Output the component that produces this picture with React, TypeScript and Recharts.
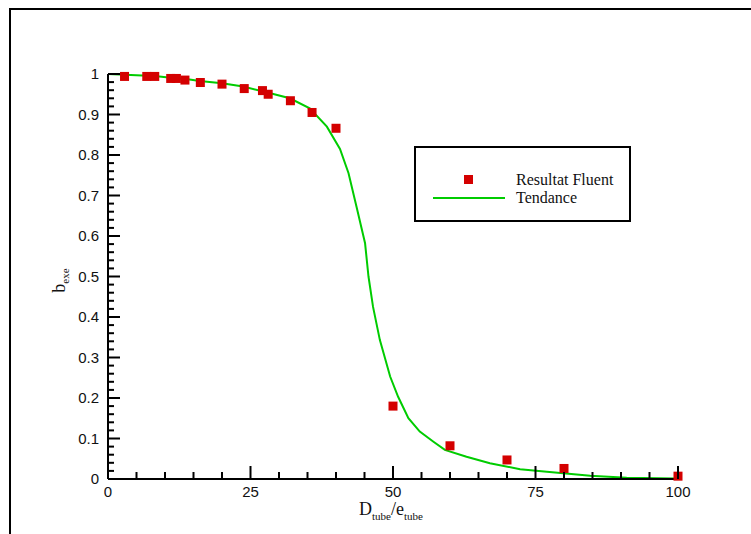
import React from 'react';
import { ComposedChart, Line, Scatter, XAxis, YAxis, Legend } from 'recharts';

// Resultat Fluent (points)
const fluentX = [2.9, 6.8, 8.2, 11, 12, 13.5, 16.2, 20, 23.9, 27.1, 28.1, 32, 35.8, 40, 50, 60, 70, 80, 100];
const fluentY = [0.994, 0.994, 0.994, 0.989, 0.989, 0.985, 0.979, 0.975, 0.964, 0.959, 0.95, 0.934, 0.905, 0.866, 0.18, 0.082, 0.047, 0.026, 0.007];

// Tendance (line)
const trendX = [0, 3, 6, 9, 11.4, 14, 16.1, 20, 23.7, 27.8, 31.9, 35.4, 38.4, 40.7, 42.2, 43.6, 45.1, 45.7, 46.5, 47.7, 49.5, 50.9, 52.7, 54.7, 57.1, 59.1, 62.9, 67, 72.3, 77, 84.6, 91, 99.5];
const trendY = [1.0, 0.998, 0.996, 0.994, 0.99, 0.987, 0.983, 0.977, 0.969, 0.955, 0.94, 0.915, 0.87, 0.815, 0.755, 0.672, 0.582, 0.5, 0.425, 0.343, 0.253, 0.203, 0.15, 0.117, 0.092, 0.072, 0.055, 0.039, 0.024, 0.018, 0.008, 0.003, 0.001];

// Axis ticks (major labelled, minor unlabelled)
const yMajorTicks = [0, 0.1, 0.2, 0.3, 0.4, 0.5, 0.6, 0.7, 0.8, 0.9, 1];
const yMinorSteps = [0.02, 0.04, 0.06, 0.08];
const xMajorTicks = [0, 25, 50, 75, 100];
const xMinorSteps = [5, 10, 15, 20];

const fluentData = fluentX.map((x, i) => ({ x, y: fluentY[i] }));
const trendData = trendX.map((x, i) => ({ x, y: trendY[i] }));

const round = (v: number) => Math.round(v * 1000) / 1000;
const yTicks: number[] = [];
yMajorTicks.forEach((t, i) => {
  yTicks.push(t);
  if (i < yMajorTicks.length - 1) yMinorSteps.forEach((s) => yTicks.push(round(t + s)));
});
const xTicks: number[] = [];
xMajorTicks.forEach((t, i) => {
  xTicks.push(t);
  if (i < xMajorTicks.length - 1) xMinorSteps.forEach((s) => xTicks.push(round(t + s)));
});
const isYMajor = (v: number) => yMajorTicks.some((t) => Math.abs(t - v) < 1e-6);
const isXMajor = (v: number) => xMajorTicks.some((t) => Math.abs(t - v) < 1e-6);

const SANS = '"Liberation Sans", Arial, sans-serif';
const SERIF = '"Liberation Serif", "Times New Roman", serif';

const YTick = (props: any) => {
  const x = Number(props.x);
  const y = Number(props.y);
  const v = props.payload.value;
  const major = isYMajor(v);
  const label = v === 0 ? '0' : v === 1 ? '1' : v.toFixed(1);
  const len = major ? 12 : 6;
  return (
    <g>
      <line x1={x} x2={x + len} y1={y} y2={y} stroke="#000000" strokeWidth={2} />
      {major ? (
        <text x={x - 9} y={y + 5} textAnchor="end" fontFamily={SANS} fontSize={15} fill="#111">
          {label}
        </text>
      ) : null}
    </g>
  );
};

const XTick = (props: any) => {
  const x = Number(props.x);
  const y = Number(props.y);
  const v = props.payload.value;
  const major = isXMajor(v);
  const len = major ? 13 : 7;
  return (
    <g>
      <line x1={x} x2={x} y1={y} y2={y - len} stroke="#000000" strokeWidth={2} />
      {major ? (
        <text x={x} y={y + 18} textAnchor="middle" fontFamily={SANS} fontSize={15} fill="#111">
          {String(v)}
        </text>
      ) : null}
    </g>
  );
};

const XLabel = (props: any) => {
  const vb = props.viewBox;
  const cx = vb.x + vb.width / 2 - 2;
  return (
    <text x={cx} y={vb.y + 36} textAnchor="middle" fontFamily={SERIF} fontSize={18} fill="#111">
      <tspan>D</tspan>
      <tspan fontSize={11} dy={5}>tube</tspan>
      <tspan dy={-5}>/e</tspan>
      <tspan fontSize={11} dy={5}>tube</tspan>
    </text>
  );
};

const YLabel = (props: any) => {
  const vb = props.viewBox;
  const x = vb.x + 65;
  const y = vb.y + vb.height / 2 + 4;
  return (
    <text x={x} y={y} textAnchor="middle" fontFamily={SERIF} fontSize={18} fill="#111" transform={`rotate(-90, ${x}, ${y})`}>
      <tspan>b</tspan>
      <tspan fontSize={11} dy={4}>exe</tspan>
    </text>
  );
};

const Square = (props: any) => {
  const { cx, cy } = props;
  if (cx == null || cy == null) return null;
  return <rect x={cx - 4.5} y={cy - 4.5} width={9} height={9} fill="#d40000" />;
};

const LegendBox = () => (
  <div
    style={{
      position: 'relative',
      width: 217,
      height: 76,
      boxSizing: 'border-box',
      border: '2px solid #000',
      background: '#fff',
      fontFamily: SERIF,
      fontSize: 16,
      color: '#111',
      lineHeight: '18px',
    }}
  >
    <div style={{ position: 'absolute', left: 47.5, top: 26.5, width: 9, height: 9, background: '#d40000' }} />
    <div style={{ position: 'absolute', left: 17, top: 49, width: 72, height: 2, background: '#00cc00' }} />
    <div style={{ position: 'absolute', left: 100, top: 23, whiteSpace: 'nowrap' }}>Resultat Fluent</div>
    <div style={{ position: 'absolute', left: 100, top: 41, whiteSpace: 'nowrap' }}>Tendance</div>
  </div>
);

export default function App() {
  return (
    <div
      style={{
        position: 'absolute',
        left: 9,
        top: 8,
        width: 742,
        height: 526,
        overflow: 'hidden',
        background: '#fff',
        borderLeft: '2px solid #000',
        borderTop: '2px solid #000',
      }}
    >
      <div style={{ position: 'absolute', left: -11, top: -10 }}>
        <ComposedChart width={751} height={534} margin={{ top: 74, right: 73, bottom: 0, left: 0 }}>
          <XAxis
            type="number"
            dataKey="x"
            domain={[0, 100]}
            ticks={xTicks}
            interval={0}
            tickSize={0}
            tickMargin={0}
            tickLine={false}
            tick={(p: any) => <XTick {...p} />}
            axisLine={{ stroke: '#000', strokeWidth: 2 }}
            height={55}
            label={<XLabel />}
          />
          <YAxis
            type="number"
            dataKey="y"
            domain={[0, 1]}
            ticks={yTicks}
            interval={0}
            tickSize={0}
            tickMargin={0}
            tickLine={false}
            tick={(p: any) => <YTick {...p} />}
            axisLine={{ stroke: '#000', strokeWidth: 2 }}
            width={108}
            label={<YLabel />}
          />
          <Legend
            verticalAlign="middle"
            align="center"
            layout="vertical"
            content={() => <LegendBox />}
            wrapperStyle={{ position: 'absolute', left: 414, top: 146, width: 217, height: 76 }}
          />
          <Scatter data={fluentData} dataKey="y" shape={(p: any) => <Square {...p} />} isAnimationActive={false} />
          <Line
            data={trendData}
            dataKey="y"
            type="linear"
            stroke="#00cc00"
            strokeWidth={2}
            dot={false}
            activeDot={false}
            isAnimationActive={false}
          />
        </ComposedChart>
      </div>
    </div>
  );
}
